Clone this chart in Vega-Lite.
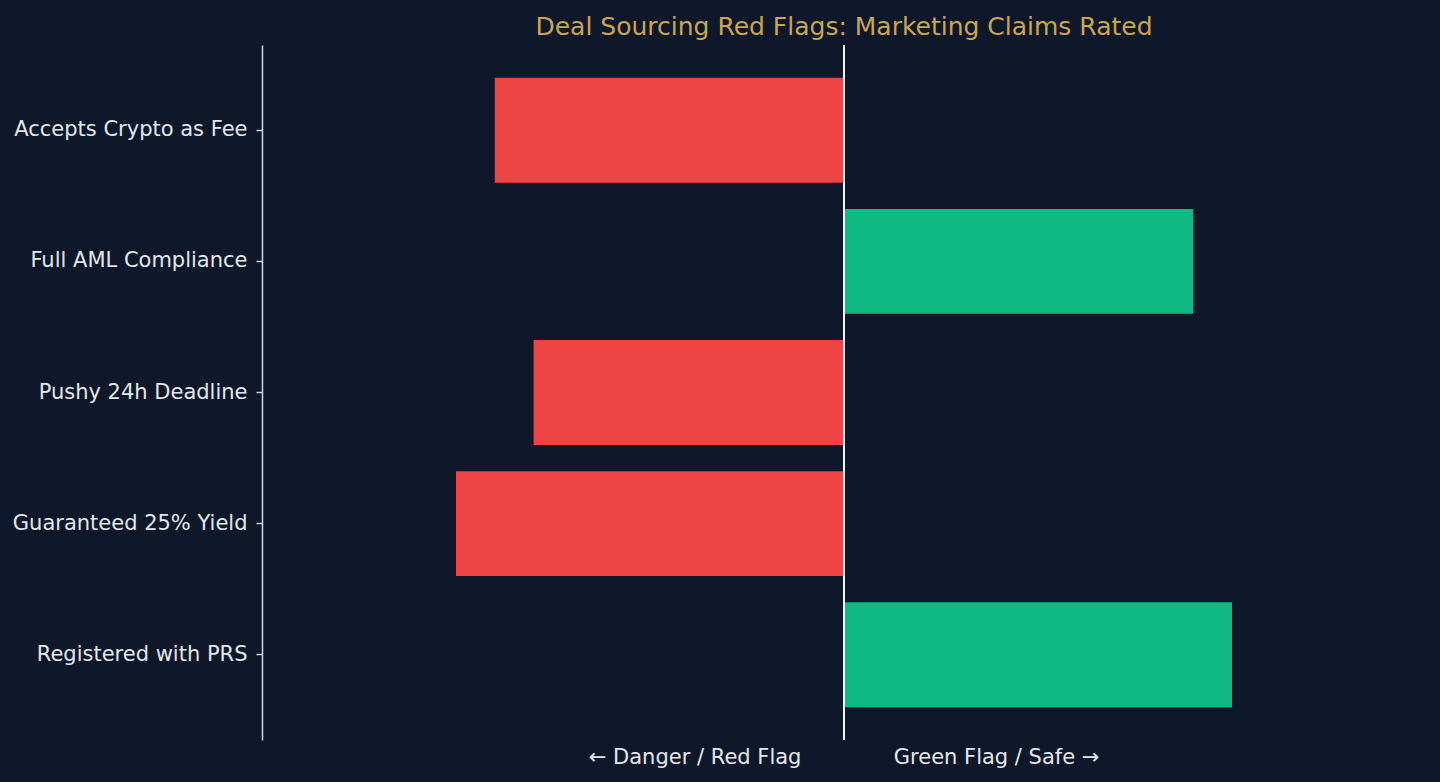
{
  "$schema": "https://vega.github.io/schema/vega-lite/v6.json",
  "width": 1164,
  "height": 695,
  "autosize": {"type": "none"},
  "padding": {"left": 262, "top": 45, "right": 14, "bottom": 42},
  "background": "#0f172a",
  "title": {
    "text": "Deal Sourcing Red Flags: Marketing Claims Rated",
    "color": "#c9a64f",
    "font": "DejaVu Sans",
    "fontSize": 25,
    "fontWeight": "normal",
    "anchor": "middle",
    "offset": 4
  },
  "config": {
    "view": {"stroke": null},
    "font": "DejaVu Sans"
  },
  "data": {
    "values": [
      {"claim": "Accepts Crypto as Fee", "score": -9, "flag": "Red Flag"},
      {"claim": "Full AML Compliance", "score": 9, "flag": "Green Flag"},
      {"claim": "Pushy 24h Deadline", "score": -8, "flag": "Red Flag"},
      {"claim": "Guaranteed 25% Yield", "score": -10, "flag": "Red Flag"},
      {"claim": "Registered with PRS", "score": 10, "flag": "Green Flag"}
    ]
  },
  "layer": [
    {
      "mark": {"type": "bar"},
      "encoding": {
        "y": {
          "field": "claim",
          "type": "nominal",
          "sort": null,
          "title": null,
          "scale": {"paddingInner": 0.2, "paddingOuter": 0.25},
          "axis": {
            "domainColor": "#cbd5e1",
            "domainWidth": 1.5,
            "tickColor": "#cbd5e1",
            "tickWidth": 1.5,
            "tickSize": 6,
            "labelPadding": 9,
            "labelColor": "#e2e8f0",
            "labelFontSize": 21,
            "labelLimit": 0,
            "labelFont": "DejaVu Sans",
            "grid": false
          }
        },
        "x": {
          "field": "score",
          "type": "quantitative",
          "title": null,
          "scale": {"domain": [-15, 15], "nice": false, "zero": false},
          "axis": {
            "values": [-3.85, 3.92],
            "labelExpr": "datum.value < 0 ? '← Danger / Red Flag' : 'Green Flag / Safe →'",
            "domain": false,
            "ticks": false,
            "grid": false,
            "labelPadding": 6,
            "labelLimit": 0,
            "labelColor": "#e2e8f0",
            "labelFontSize": 21,
            "labelFont": "DejaVu Sans"
          }
        },
        "color": {
          "field": "flag",
          "type": "nominal",
          "scale": {"domain": ["Red Flag", "Green Flag"], "range": ["#ef4444", "#10b981"]},
          "legend": null
        }
      }
    },
    {
      "data": {"values": [{"zero": 0}]},
      "mark": {"type": "rule", "color": "#f1f5f9", "strokeWidth": 2},
      "encoding": {
        "x": {"field": "zero", "type": "quantitative"}
      }
    }
  ]
}
